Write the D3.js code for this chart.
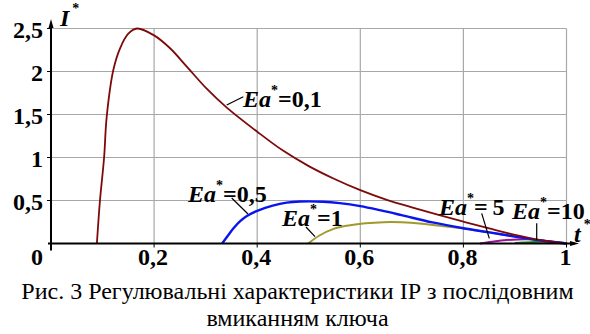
<!doctype html>
<html>
<head>
<meta charset="utf-8">
<script src="https://cdn.jsdelivr.net/npm/d3@7"></script>
<style>
  body { margin: 0; background: #fff; }
  svg { display: block; font-family: 'Liberation Serif', serif; }
</style>
</head>
<body>
<svg id="chart" width="590" height="334"></svg>
<script>
  //
  // Data
  //

  var xTicks = [0.2, 0.4, 0.6, 0.8, 1]
  var yTicks = [0.5, 1, 1.5, 2, 2.5]
  var xTickLabels = ['0,2', '0,4', '0,6', '0,8', '1']
  var yTickLabels = ['0,5', '1', '1,5', '2', '2,5']

  var ea01 = [[0.089, 0], [0.095, 0.5], [0.103, 1.0], [0.108, 1.47], [0.121, 2.02], [0.134, 2.27],
    [0.150, 2.44], [0.167, 2.50], [0.200, 2.42], [0.231, 2.27], [0.263, 2.06], [0.302, 1.80],
    [0.341, 1.58], [0.400, 1.30], [0.450, 1.08], [0.500, 0.90], [0.550, 0.75], [0.600, 0.62],
    [0.650, 0.51], [0.700, 0.42], [0.750, 0.335], [0.800, 0.254], [0.850, 0.175], [0.900, 0.10],
    [0.950, 0.04], [1, 0]]
  var ea05 = [[0.332, 0], [0.343, 0.09], [0.354, 0.177], [0.367, 0.26], [0.380, 0.32], [0.400, 0.38],
    [0.430, 0.44], [0.457, 0.475], [0.483, 0.488], [0.528, 0.486], [0.560, 0.47], [0.600, 0.435],
    [0.640, 0.385], [0.680, 0.33], [0.740, 0.245], [0.800, 0.177], [0.850, 0.13], [0.900, 0.08],
    [0.950, 0.035], [1, 0]]
  var ea1 = [[0.499, 0], [0.520, 0.09], [0.548, 0.17], [0.580, 0.212], [0.610, 0.235], [0.645, 0.248],
    [0.680, 0.247], [0.720, 0.23], [0.755, 0.205], [0.800, 0.175], [0.850, 0.13], [0.900, 0.08],
    [0.950, 0.035], [1, 0]]
  var ea5 = [[0.832, 0], [0.855, 0.02], [0.884, 0.04], [0.923, 0.05], [0.955, 0.033], [0.980, 0.015], [1, 0]]
  var ea10 = [[0.900, 0.005], [0.930, 0.015], [0.950, 0.02], [0.975, 0.015], [0.993, 0.008], [1, 0]]

  var seriesNames = ['0,1', '0,5', '1', '5', '10']
  var seriesData = [ea01, ea05, ea1, ea5, ea10]

  var caption = ['Рис. 3 Регулювальні характеристики ІР з послідовним', 'вмиканням ключа']

  //
  // Styles and layout
  //

  var colors = ['#7d0a0a', '#0a14f0', '#a09a2a', '#9a109a', '#10a010']
  var widths = [1.8, 2.4, 2, 2, 2]
  var colorGrid = '#a8a8a8'

  var svg = d3.select('#chart')
  var x = d3.scaleLinear().domain([0, 1]).range([51, 566.5])
  var y = d3.scaleLinear().domain([0, 2.5]).range([243.5, 28.5])

  // grid
  var grid = svg.append('g').attr('stroke', colorGrid).attr('stroke-width', 1.2)
  grid.selectAll('line.gx').data(xTicks).enter().append('line')
    .attr('x1', d => x(d)).attr('x2', d => x(d))
    .attr('y1', y(0)).attr('y2', y(2.5))
  grid.selectAll('line.gy').data(yTicks).enter().append('line')
    .attr('x1', x(0)).attr('x2', x(1))
    .attr('y1', d => y(d)).attr('y2', d => y(d))

  // curves
  var line = d3.line().x(d => x(d[0])).y(d => y(d[1])).curve(d3.curveCatmullRom.alpha(0.5))
  // draw from last to first so the 0,1 curve stays on top
  seriesData.slice().reverse().forEach(function (s, j) {
    var i = seriesData.length - 1 - j
    svg.append('path').attr('d', line(s))
      .attr('fill', 'none').attr('stroke', colors[i]).attr('stroke-width', widths[i])
  })

  // axes with arrows
  var ax = svg.append('g').attr('stroke', '#000').attr('stroke-width', 2)
  ax.append('line').attr('x1', x(0) - 3).attr('x2', 575).attr('y1', y(0)).attr('y2', y(0))
  ax.append('line').attr('x1', x(0)).attr('x2', x(0)).attr('y1', y(0) + 7).attr('y2', 23)
  svg.append('path').attr('d', 'M579,' + y(0) + 'l-9,-2.5l0,5z').attr('fill', '#000')
  svg.append('path').attr('d', 'M' + x(0) + ',19l-2.5,9l5,0z').attr('fill', '#000')
  ax.selectAll('line.tx').data(xTicks).enter().append('line')
    .attr('stroke-width', 1)
    .attr('x1', d => x(d)).attr('x2', d => x(d))
    .attr('y1', y(0)).attr('y2', y(0) + 4)
  ax.selectAll('line.ty').data(yTicks).enter().append('line')
    .attr('stroke-width', 1)
    .attr('x1', x(0) - 4).attr('x2', x(0))
    .attr('y1', d => y(d)).attr('y2', d => y(d))

  // tick labels
  svg.selectAll('text.xl').data(xTicks).enter().append('text')
    .attr('x', d => x(d) - 1).attr('y', 264.5)
    .attr('text-anchor', 'middle').attr('font-size', '24px').attr('font-weight', 'bold')
    .text((d, i) => xTickLabels[i])
  svg.selectAll('text.yl').data(yTicks).enter().append('text')
    .attr('x', 43).attr('y', d => y(d) + 9)
    .attr('text-anchor', 'end').attr('font-size', '24px').attr('font-weight', 'bold')
    .text((d, i) => yTickLabels[i])
  svg.append('text').attr('x', 43).attr('y', 264.5)
    .attr('text-anchor', 'end').attr('font-size', '24px').attr('font-weight', 'bold').text('0')

  // axis titles
  function starred(px, py, letter, size) {
    var t = svg.append('text').attr('x', px).attr('y', py)
      .attr('font-size', size + 'px').attr('font-weight', 'bold')
    t.append('tspan').attr('font-style', 'italic').text(letter)
    t.append('tspan').attr('font-size', '14px').attr('dy', -13).attr('dx', 3).text('*')
  }
  starred(60, 26, 'I', 24)
  starred(574, 242, 't', 24)

  // series labels (pixel anchors and leader lines)
  var labelPos = [
    { tx: 243, ty: 107, l: [226.7, 105, 243.3, 96.7] },
    { tx: 188, ty: 202, l: [231.7, 198, 248, 214] },
    { tx: 282, ty: 226, l: [306, 227, 315, 236.7] },
    { tx: 439, ty: 214.5, l: [481.7, 213.3, 489.3, 238.3] },
    { tx: 512, ty: 218.5, l: [536.7, 223.3, 536.7, 240] }
  ]
  seriesNames.forEach(function (name, i) {
    var p = labelPos[i]
    svg.append('line').attr('x1', p.l[0]).attr('y1', p.l[1]).attr('x2', p.l[2]).attr('y2', p.l[3])
      .attr('stroke', '#000').attr('stroke-width', 1.2)
    var t = svg.append('text').attr('x', p.tx).attr('y', p.ty)
      .attr('font-size', '24px').attr('font-weight', 'bold')
    t.append('tspan').attr('font-style', 'italic').text('Ea')
    t.append('tspan').attr('font-size', '14px').attr('dy', -12).text('*')
    t.append('tspan').attr('dy', 12).text('=' + (name === '5' ? '\u2009' : '') + name)
  })

  // caption
  svg.selectAll('text.cap').data(caption).enter().append('text')
    .attr('x', 297.5).attr('y', (d, i) => 299 + i * 27)
    .attr('text-anchor', 'middle').attr('font-size', '24px')
    .text(d => d)
</script>
</body>
</html>
